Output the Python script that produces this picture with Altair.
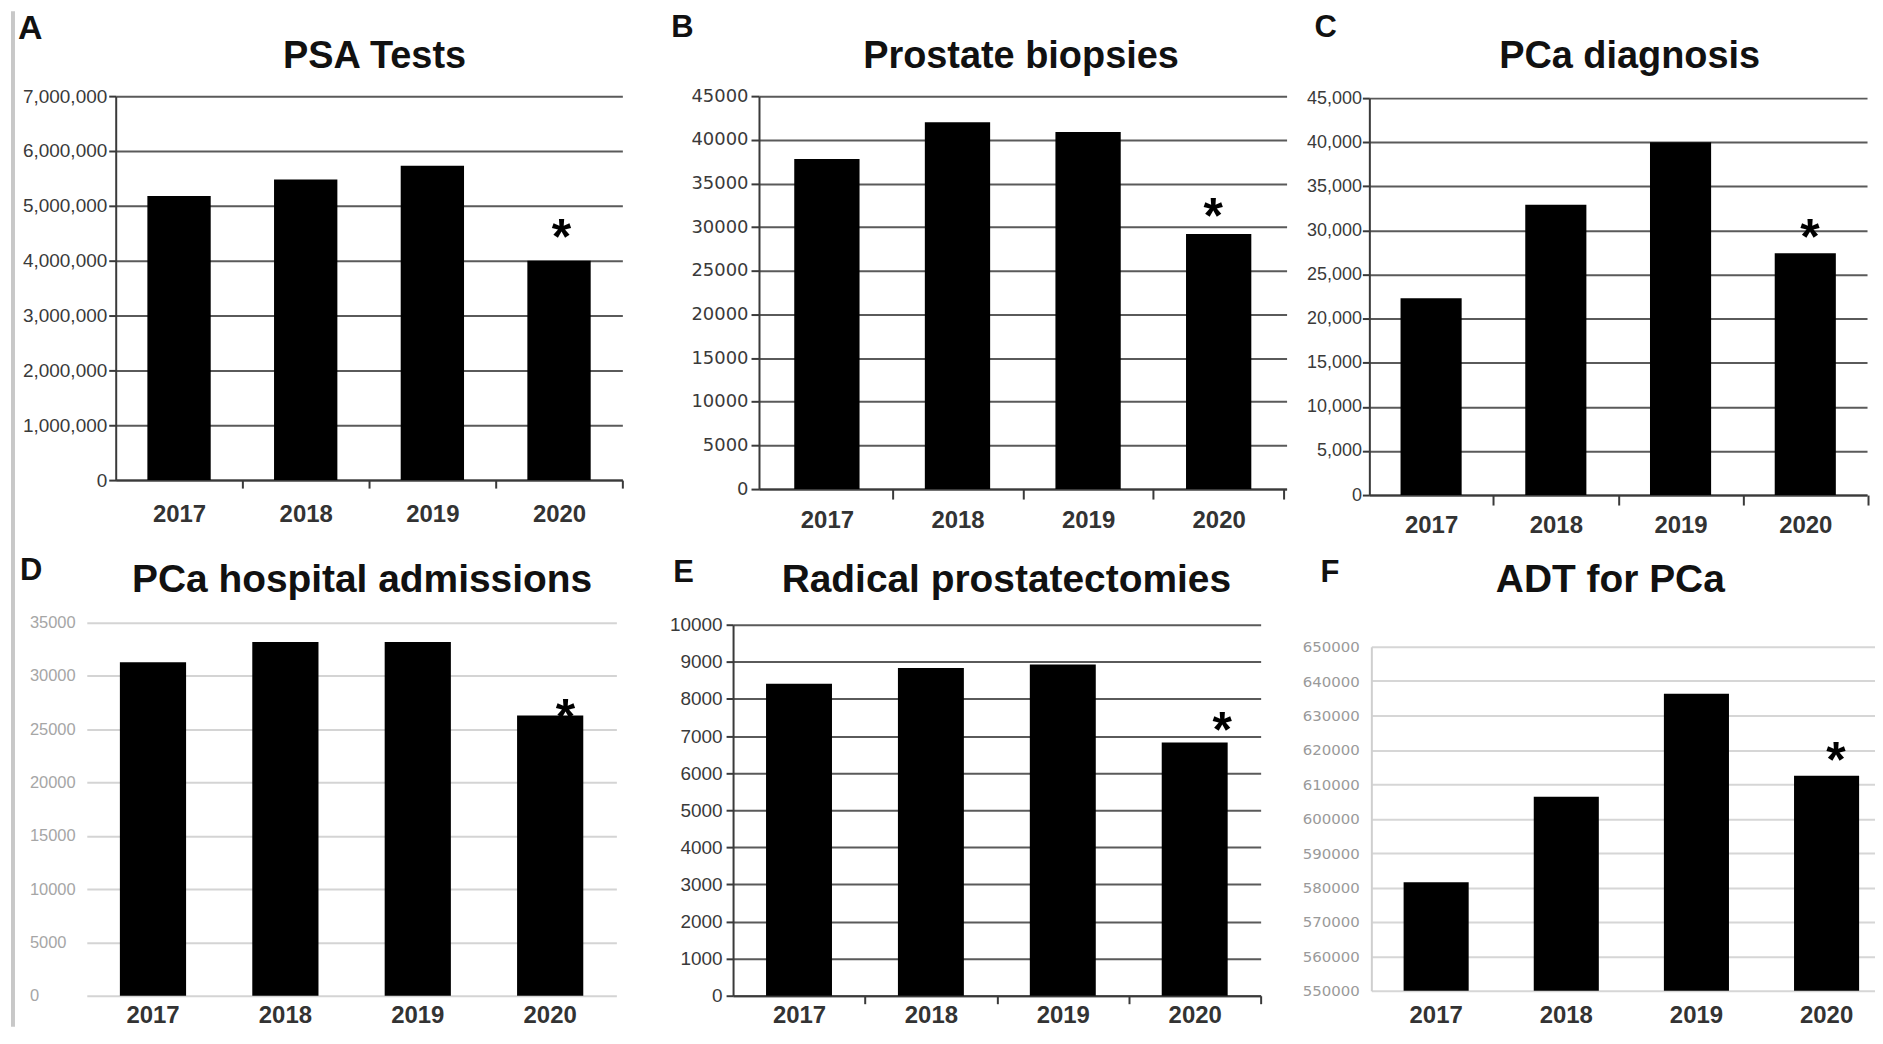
import altair as alt
import pandas as pd

# ---------------- data ----------------
YEARS = ["2017", "2018", "2019", "2020"]
STARS = ["", "", "", "*"]

PSA_TESTS = [5181000, 5481000, 5731000, 4000000]
BIOPSIES = [37800, 42000, 40900, 29200]
DIAGNOSIS = [22300, 32900, 40000, 27400]
ADMISSIONS = [31300, 33200, 33200, 26300]
PROSTATECTOMIES = [8410, 8830, 8930, 6825]
ADT = [581500, 606400, 636300, 612500]

LETTERS = ["A", "B", "C", "D", "E", "F"]
TITLES = ["PSA Tests", "Prostate biopsies", "PCa diagnosis",
          "PCa hospital admissions", "Radical prostatectomies", "ADT for PCa"]

TICKS_A = [0, 1000000, 2000000, 3000000, 4000000, 5000000, 6000000, 7000000]
TICKS_B = [0, 5000, 10000, 15000, 20000, 25000, 30000, 35000, 40000, 45000]
TICKS_C = [0, 5000, 10000, 15000, 20000, 25000, 30000, 35000, 40000, 45000]
TICKS_D = [0, 5000, 10000, 15000, 20000, 25000, 30000, 35000]
TICKS_E = [0, 1000, 2000, 3000, 4000, 5000, 6000, 7000, 8000, 9000, 10000]
TICKS_F = [550000, 560000, 570000, 580000, 590000, 600000, 610000,
           620000, 630000, 640000, 650000]

DARK = "#3a3a3a"
GRID_DARK = "#5a5a5a"


def panel(values, ticks, letter, title, st):
    df = pd.DataFrame({"year": YEARS, "value": values, "star": STARS})
    lo, hi = ticks[0], ticks[-1]
    n = len(YEARS)
    step = (st["xr"][1] - st["xr"][0]) / (n - st["pi"] + 2 * st["po"])
    xaxis_kw = dict(title=None, labelAngle=0, labelFont="Liberation Sans",
                    labelFontSize=24, labelFontWeight="bold", labelColor="#333333",
                    labelPadding=st["xpad"], grid=False)
    if st["xticks"]:
        t_off = step * st["pi"] / 2
        xaxis_kw.update(domain=True, domainColor=DARK, domainWidth=2, ticks=True,
                        tickColor=DARK, tickWidth=2, tickSize=st["xtick"],
                        bandPosition=1, tickOffset=t_off, labelOffset=-t_off)
    else:
        xaxis_kw.update(domain=False, ticks=False, tickSize=0)
    yaxis_kw = dict(title=None, values=ticks, format=st["fmt"],
                    labelFont=st["yfont"], labelFontSize=st["yfs"],
                    labelColor=st["ycolor"], labelAlign=st.get("yalign", "right"),
                    labelPadding=st["ypad"], grid=True, gridColor=st["grid"],
                    gridWidth=2)
    if st.get("yoff"):
        yaxis_kw["offset"] = st["yoff"]
    if st["yticks"]:
        yaxis_kw.update(domain=True, domainColor=DARK, domainWidth=2, ticks=True,
                        tickColor=DARK, tickWidth=2, tickSize=st["ytick"])
    else:
        yaxis_kw.update(ticks=False, tickSize=0)
        if st.get("ydomain"):
            yaxis_kw.update(domain=True, domainColor=st["ydomain"], domainWidth=2)
        else:
            yaxis_kw.update(domain=False)

    X = alt.X("year:N", sort=YEARS,
              scale=alt.Scale(range=st["xr"], paddingInner=st["pi"],
                              paddingOuter=st["po"], align=st.get("align", 0.5)),
              axis=alt.Axis(**xaxis_kw))
    Y = alt.Y("value:Q",
              scale=alt.Scale(domain=[lo, hi], nice=False, zero=False,
                              range=st["yr"]),
              axis=alt.Axis(**yaxis_kw))

    base = alt.Chart(df)
    bars = base.mark_bar(color="black").encode(x=X, y=Y, y2=alt.datum(lo))
    stars = base.mark_text(font="Liberation Sans", fontWeight="bold", fontSize=50,
                           baseline="alphabetic", align="center", color="black",
                           dx=st["sdx"], dy=st["sdy"]).encode(x=X, y=Y, text="star:N")
    ttl = alt.Chart(pd.DataFrame({"t": [title]})).mark_text(
        font="Liberation Sans", fontWeight="bold", fontSize=st["tfs"],
        align="center", baseline="alphabetic", color="#111111").encode(
        x=alt.value(st["tx"]), y=alt.value(st["ty"]), text="t:N")
    let = alt.Chart(pd.DataFrame({"t": [letter]})).mark_text(
        font="Liberation Sans", fontWeight="bold", fontSize=st["lfs"],
        align="left", baseline="alphabetic", color="#111111").encode(
        x=alt.value(st["lx"]), y=alt.value(st["ly"]), text="t:N")
    layers = [bars, stars, ttl, let]
    if st.get("strip"):
        strip = alt.Chart(pd.DataFrame({"s": [0]})).mark_rule(
            color="#c8c8c8", strokeWidth=4).encode(
            x=alt.value(st["strip"][0]), y=alt.value(st["strip"][1]),
            y2=alt.value(st["strip"][2]))
        layers = [strip] + layers
    return alt.layer(*layers).properties(width=st["w"], height=st["h"])


common_dark = dict(yticks=True, xticks=True, ycolor=DARK, grid=GRID_DARK)

# column starts (page px): 116, 735, 1373 ; row tops: 95, 623
A = panel(PSA_TESTS, TICKS_A, LETTERS[0], TITLES[0], dict(
    common_dark, w=536, h=385, xr=[0, 508], yr=[385, 0], pi=0.5, po=0.25,
    fmt=",d", yfont="Liberation Sans", yfs=19, ypad=2, ytick=7, xtick=8, xpad=15,
    tx=259.5, ty=-28, tfs=38, lx=-98, ly=-57, lfs=34, sdx=2.4, sdy=-6.9))

B = panel(BIOPSIES, TICKS_B, LETTERS[1], TITLES[1], dict(
    common_dark, w=555, h=394, xr=[26, 555], yr=[394, 0], yoff=-26,
    pi=0.5, po=0.27, fmt="d", yfont="DejaVu Sans", yfs=18, ypad=3, ytick=8,
    xtick=10, xpad=10, tx=288.7, ty=-28, tfs=38, lx=-62, ly=-59, lfs=31,
    sdx=-5.6, sdy=-0.8))

C = panel(DIAGNOSIS, TICKS_C, LETTERS[2], TITLES[2], dict(
    common_dark, w=499, h=400, xr=[0, 499], yr=[400, 2], pi=0.51, po=0.25,
    fmt=",d", yfont="Liberation Sans", yfs=18, ypad=1, ytick=7, xtick=10, xpad=9,
    tx=261, ty=-28, tfs=38, lx=-55, ly=-59, lfs=31, sdx=4.8, sdy=0.3))

D = panel(ADMISSIONS, TICKS_D, LETTERS[3], TITLES[3], dict(
    yticks=False, xticks=False, ycolor="#a6a6a6", grid="#d4d4d4",
    w=536, h=374, xr=[-29, 502], yr=[374, 0], pi=0.5, po=0.25, fmt="d",
    yfont="Liberation Sans", yfs=16.5, yalign="left", ypad=86.5, xpad=8,
    tx=247, ty=-31, tfs=39, lx=-96, ly=-43, lfs=31, sdx=15.4, sdy=18.5,
    strip=(-103, -613, 405)))

E = panel(PROSTATECTOMIES, TICKS_E, LETTERS[4], TITLES[4], dict(
    common_dark, w=555, h=374, xr=[0, 529], yr=[374, 2], pi=0.5, po=0.25,
    fmt="d", yfont="Liberation Sans", yfs=19, ypad=4, ytick=7, xtick=8, xpad=0,
    tx=274, ty=-31, tfs=39, lx=-60, ly=-41, lfs=31, sdx=27.6, sdy=4.6))

F = panel(ADT, TICKS_F, LETTERS[5], TITLES[5], dict(
    yticks=False, xticks=False, ycolor="#9a9a9a", grid="#d6d6d6", ydomain="#cfcfcf",
    w=507, h=369, xr=[2, 507], yr=[369, 24], yoff=-2, pi=0.5, po=0.185, align=0.67,
    fmt="d", yfont="DejaVu Sans", yfs=15, ypad=12, xpad=13,
    tx=241.6, ty=-31, tfs=39, lx=-49, ly=-41, lfs=31, sdx=9.5, sdy=1.4))

chart = alt.concat(
    A, B, C, D, E, F,
    columns=3,
    spacing={"row": 128, "column": 83},
    bounds="flush",
).properties(
    padding={"left": 3, "top": 0, "right": 0, "bottom": 0},
    background="white",
).configure_view(stroke=None)

chart.save("out.html", embed_options={"renderer": "svg", "actions": False})
